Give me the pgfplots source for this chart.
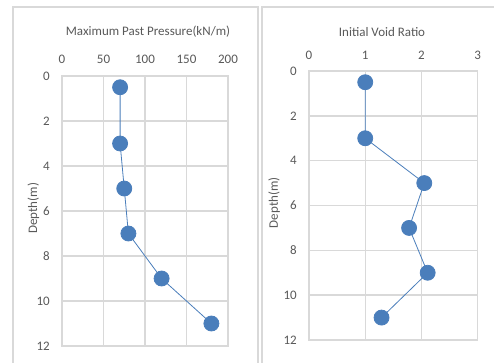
\documentclass[border=0pt]{standalone}
\usepackage{fontspec}
\setmainfont{Carlito}
\usepackage{pgfplots}
\pgfplotsset{compat=1.18}
\definecolor{txt}{HTML}{595959}
\definecolor{grd}{HTML}{D9D9D9}
\definecolor{ser}{HTML}{4A7EBB}
\newcommand\f{\fontsize{13}{15}\selectfont}
\pgfplotsset{
  myax/.style={
    scale only axis,
    anchor=south west,
    y dir=reverse,
    ymin=0, ymax=12,
    ytick={0,2,4,6,8,10,12},
    xticklabel pos=upper,
    major tick length=0pt,
    axis line style={grd, line width=1.4pt},
    grid=major,
    major grid style={grd, line width=1.4pt},
    /pgf/number format/assume math mode=true,
    tick label style={font=\f, text=txt},
    yticklabel style={anchor=east, inner sep=0pt, xshift=-12pt},
    label style={font=\f, text=txt},
    ylabel={Depth(m)},
    clip=false,
  },
  ser/.style={color=ser, line width=0.8pt, mark=*, mark size=7.5pt, mark options={fill=ser, draw=none}},
}
\begin{document}
\begin{tikzpicture}
\useasboundingbox (0pt,0pt) rectangle (494pt,362pt);
\fill[white] (0pt,0pt) rectangle (494pt,362pt);
\draw[grd, line width=1.3pt] (13pt,-5pt) -- (13pt,355pt) -- (258pt,355pt) -- (258pt,-5pt);
\draw[grd, line width=1.3pt] (262pt,-5pt) -- (262pt,355pt) -- (510pt,355pt);
\begin{axis}[myax,
  at={(62pt,16pt)}, width=166pt, height=270pt,
  xmin=0, xmax=200, xtick={0,50,100,150,200},
  xticklabel style={anchor=base, inner sep=0pt, yshift=13pt},
  ylabel style={at={(axis description cs:-0.172,0.51)}, anchor=center},
]
\addplot[ser] coordinates {(70,0.5) (70,3) (75,5) (80,7) (120,9) (180,11)};
\node[font=\f, text=txt, anchor=center] at (axis description cs:0.518,1.163) {Maximum Past Pressure(kN/m)};
\end{axis}
\begin{axis}[myax,
  at={(309pt,22pt)}, width=168.7pt, height=269pt,
  xmin=0, xmax=3, xtick={0,1,2,3},
  xticklabel style={anchor=base, inner sep=0pt, yshift=12pt},
  ylabel style={at={(axis description cs:-0.207,0.51)}, anchor=center},
]
\addplot[ser] coordinates {(1.0,0.5) (1.0,3) (2.05,5) (1.78,7) (2.11,9) (1.29,11)};
\node[font=\f, text=txt, anchor=center] at (axis description cs:0.433,1.145) {Initial Void Ratio};
\end{axis}
\end{tikzpicture}
\end{document}
